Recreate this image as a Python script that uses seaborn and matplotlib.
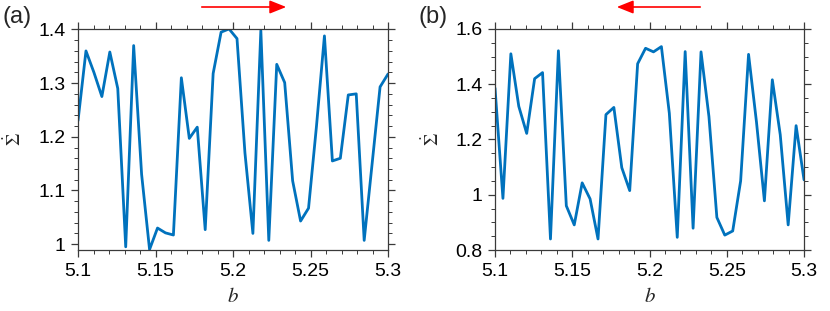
import numpy as np
import matplotlib
matplotlib.use('Agg')
import matplotlib.pyplot as plt
from matplotlib.patches import FancyArrowPatch
from matplotlib.ticker import MultipleLocator, FormatStrFormatter
import seaborn as sns

sns.set_style('ticks')
plt.rcParams['font.family'] = ['Liberation Sans', 'DejaVu Sans']
plt.rcParams['mathtext.fontset'] = 'stix'

# parameter grid: 40 samples between 5.1 and 5.3
b = np.linspace(5.1, 5.3, 40)

# forward sweep (a)
sigma_a = [1.230, 1.360, 1.320, 1.275, 1.358, 1.290, 0.995, 1.370, 1.130, 0.990,
           1.030, 1.021, 1.017, 1.310, 1.197, 1.218, 1.027, 1.318, 1.395, 1.401,
           1.383, 1.170, 1.020, 1.398, 1.007, 1.335, 1.301, 1.118, 1.043, 1.067,
           1.220, 1.388, 1.155, 1.160, 1.278, 1.280, 1.007, 1.150, 1.293, 1.317]

# backward sweep (b)
sigma_b = [1.386, 0.987, 1.510, 1.320, 1.222, 1.420, 1.442, 0.840, 1.521, 0.960,
           0.891, 1.043, 0.985, 0.840, 1.290, 1.316, 1.098, 1.015, 1.474, 1.530,
           1.517, 1.536, 1.295, 0.846, 1.518, 0.879, 1.517, 1.283, 0.918, 0.854,
           0.869, 1.050, 1.508, 1.263, 0.978, 1.416, 1.217, 0.891, 1.250, 1.054]

LINE_COLOR = '#0072BD'
FRAME_COLOR = '#3a3a3a'

fig = plt.figure(figsize=(8.3, 3.11), dpi=100)
ax_a = fig.add_axes([0.094, 0.196, 0.3735, 0.711])
ax_b = fig.add_axes([0.5964, 0.196, 0.3723, 0.711])

panels = [
    (ax_a, sigma_a, (0.989, 1.401), 0.1, 0.02, -0.17),
    (ax_b, sigma_b, (0.8, 1.6), 0.2, 0.05, -0.168),
]

for ax, sig, ylim, ymaj, ymin, ylab_x in panels:
    sns.lineplot(x=b, y=sig, ax=ax, color=LINE_COLOR, linewidth=2.0, estimator=None)
    ax.set_xlim(5.1, 5.3)
    ax.set_ylim(*ylim)
    ax.xaxis.set_major_locator(MultipleLocator(0.05))
    ax.xaxis.set_minor_locator(MultipleLocator(0.01))
    ax.yaxis.set_major_locator(MultipleLocator(ymaj))
    ax.yaxis.set_minor_locator(MultipleLocator(ymin))
    ax.xaxis.set_major_formatter(FormatStrFormatter('%g'))
    ax.yaxis.set_major_formatter(FormatStrFormatter('%g'))
    ax.tick_params(which='both', direction='out', top=True, right=True,
                   color=FRAME_COLOR, labelsize=14, labelcolor='black')
    ax.tick_params(which='major', length=5, width=0.9, pad=4)
    ax.tick_params(which='minor', length=3, width=0.7)
    for sp in ax.spines.values():
        sp.set_color(FRAME_COLOR)
        sp.set_linewidth(0.9)
    ax.set_xlabel('$b$', fontsize=15)
    ax.xaxis.set_label_coords(0.5, -0.165)
    ax.set_ylabel(r'$\dot{\Sigma}$', fontsize=14)
    ax.yaxis.set_label_coords(ylab_x, 0.5)

# panel tags
fig.text(3 / 830, 1 - 17 / 311, '(a)', fontsize=17, va='center', ha='left')
fig.text(418 / 830, 1 - 17 / 311, '(b)', fontsize=17, va='center', ha='left')

# sweep direction arrows
for x0, x1 in [(199, 289), (703, 614)]:
    fig.add_artist(FancyArrowPatch(
        (x0 / 830, 1 - 7 / 311), (x1 / 830, 1 - 7 / 311), transform=fig.transFigure,
        arrowstyle='-|>,head_length=10,head_width=4', color='red', linewidth=1.2))

fig.savefig('out.png', dpi=100)
